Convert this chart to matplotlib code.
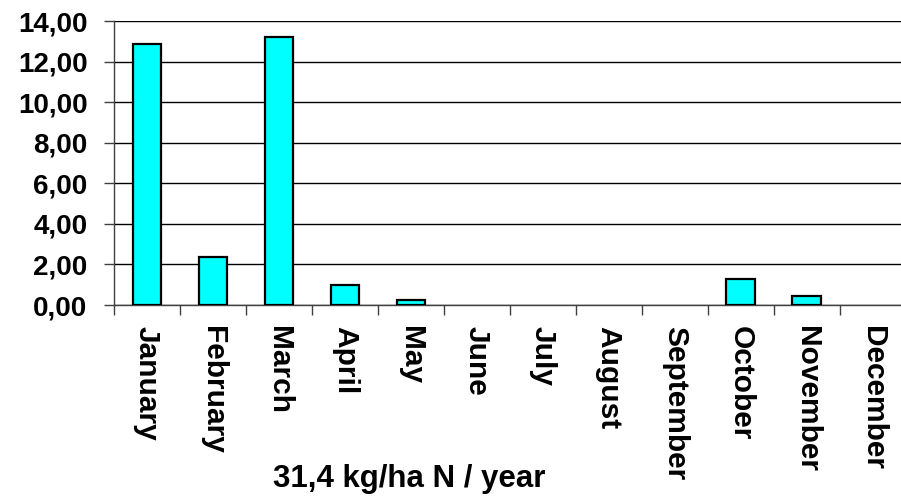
import matplotlib
matplotlib.use("Agg")
import matplotlib.pyplot as plt
from matplotlib.ticker import FuncFormatter, FixedLocator
import numpy as np

months = ["January", "February", "March", "April", "May", "June", "July",
          "August", "September", "October", "November", "December"]
n_values = [12.88, 2.38, 13.22, 1.01, 0.23, 0.0, 0.0, 0.0, 0.0, 1.26, 0.45, 0.0]
y_ticks = [0, 2, 4, 6, 8, 10, 12, 14]
title = "31,4 kg/ha N / year"

plt.rcParams['font.family'] = ['Liberation Sans', 'DejaVu Sans']
plt.rcParams['font.weight'] = 'bold'

fig = plt.figure(figsize=(9.01, 4.96), dpi=100)
ax = fig.add_axes([114 / 901, 1 - 305 / 496, 1 - 114 / 901 + 0.005, 284 / 496])

x = np.arange(len(months))
bars = ax.bar(x, n_values, width=0.43, color='#00FFFF', edgecolor='black', linewidth=1.6, zorder=3)
# empty months show nothing
for b, v in zip(bars, n_values):
    if v == 0:
        b.set_visible(False)

ax.set_xlim(-0.5, len(months) - 0.5)
ax.set_ylim(0, 14)
ax.set_yticks(y_ticks)
ax.yaxis.set_major_formatter(FuncFormatter(lambda v, p: ('%.2f' % v).replace('.', ',')))
ax.yaxis.grid(True, color='black', linewidth=1.0, zorder=0)
ax.set_axisbelow(True)

# month labels under the bars, ticks between categories
ax.set_xticks(x)
ax.set_xticklabels(months, rotation=270, ha='center', va='top', fontsize=21.5, fontweight='bold')
ax.tick_params(axis='x', which='major', length=0, pad=15)
ax.xaxis.set_minor_locator(FixedLocator(np.arange(-0.5, len(months), 1.0)))
ax.tick_params(axis='x', which='minor', length=7, width=1.0, color='#404040', direction='out')
ax.tick_params(axis='y', length=7, width=1.0, color='#404040', direction='out', pad=12,
               labelsize=20)
for lbl in ax.get_yticklabels():
    lbl.set_fontweight('bold')

for side in ['top', 'right']:
    ax.spines[side].set_visible(False)
ax.spines['left'].set_color('#404040')
ax.spines['bottom'].set_color('#404040')
ax.spines['left'].set_linewidth(1.0)
ax.spines['bottom'].set_linewidth(1.0)

fig.text(409 / 901, 9 / 496, title, ha='center', va='baseline', fontsize=22.5, fontweight='bold')

fig.savefig("out.png", dpi=100)
